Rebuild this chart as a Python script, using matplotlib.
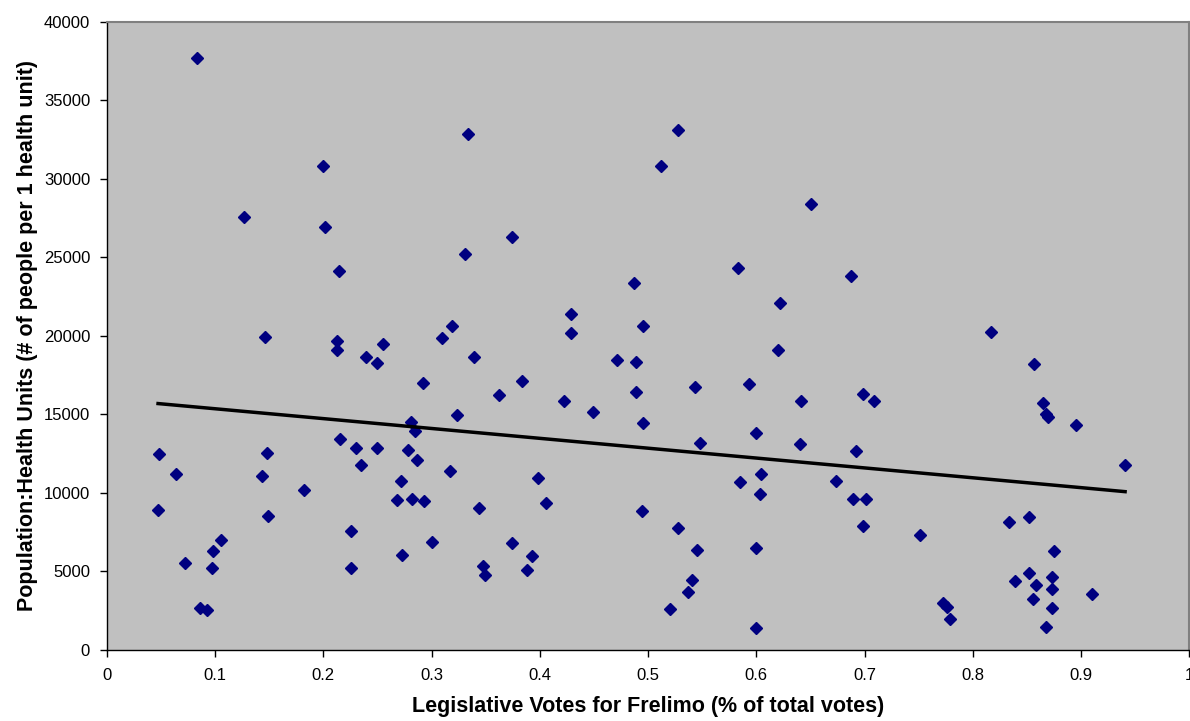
import numpy as np
import matplotlib
matplotlib.use("Agg")
from matplotlib import pyplot as plt

plt.rcParams['font.family'] = ['Liberation Sans', 'DejaVu Sans']

# vote share for Frelimo (fraction of total votes)
votes = [
    0.0836, 0.200, 0.1269, 0.2012, 0.2148, 0.3188, 0.146, 0.310,
    0.2129, 0.2123, 0.2554, 0.2394, 0.2498, 0.2917, 0.3231, 0.2815,
    0.2852, 0.2154, 0.2301, 0.2498, 0.2779, 0.2862, 0.2345, 0.3175,
    0.0486, 0.0640, 0.1477, 0.1434, 0.1821, 0.2717, 0.2677, 0.2818,
    0.2929, 0.0474, 0.1486, 0.1052, 0.0978, 0.0723, 0.0975, 0.2252,
    0.2252, 0.2729, 0.3003, 0.0861, 0.0929,
    0.3335, 0.528, 0.512, 0.6504, 0.3741, 0.3314, 0.5828, 0.4874,
    0.6222, 0.4286, 0.4953, 0.4286,
    0.339, 0.4713, 0.4892, 0.6197, 0.384, 0.3619, 0.4221, 0.4492,
    0.4886, 0.5433, 0.5932, 0.6409, 0.4953, 0.5477, 0.600, 0.640,
    0.3981, 0.4061, 0.344, 0.4941, 0.5846, 0.604, 0.6031, 0.528,
    0.5452, 0.5994, 0.3748, 0.3926, 0.3886, 0.348, 0.3495, 0.5403,
    0.5366, 0.52, 0.600,
    0.6871, 0.8172, 0.8563, 0.699, 0.7086, 0.6917, 0.6741, 0.6892,
    0.7012, 0.6984, 0.7514, 0.8652, 0.8677, 0.8696, 0.8954, 0.9407,
    0.8336, 0.8523, 0.8747, 0.8523, 0.8391, 0.8581, 0.8735, 0.8729,
    0.856, 0.8735, 0.8677, 0.9105, 0.7729, 0.7766, 0.7791,
]

# people per health unit
pop_per_unit = [
    37690, 30830, 27600, 26920, 24120, 20660, 19960, 19900,
    19680, 19110, 19490, 18640, 18280, 17030, 14970, 14500,
    13970, 13420, 12890, 12850, 12760, 12100, 11780, 11400,
    12490, 11210, 12530, 11080, 10170, 10790, 9580, 9640,
    9470, 8920, 8540, 6990, 6330, 5560, 5240, 7580,
    5240, 6030, 6880, 2700, 2550,
    32890, 33100, 30850, 28390, 26290, 25250, 24330, 23380,
    22080, 21420, 20640, 20170,
    18680, 18470, 18330, 19110, 17150, 16260, 15840, 15140,
    16420, 16730, 16940, 15880, 14440, 13210, 13800, 13100,
    10980, 9380, 9070, 8870, 10680, 11230, 9920, 7750,
    6390, 6520, 6840, 5970, 5100, 5370, 4780, 4480,
    3690, 2630, 1400,
    23800, 20240, 18240, 16290, 15860, 12660, 10770, 9600,
    9600, 7920, 7310, 15710, 15030, 14820, 14350, 11760,
    8170, 8450, 6310, 4930, 4400, 4120, 4650, 3870,
    3270, 2650, 1470, 3570, 2990, 2760, 1960,
]

x_ticks = [0, 0.1, 0.2, 0.3, 0.4, 0.5, 0.6, 0.7, 0.8, 0.9, 1]
x_tick_labels = ['0', '0.1', '0.2', '0.3', '0.4', '0.5', '0.6', '0.7', '0.8', '0.9', '1']
y_ticks = [0, 5000, 10000, 15000, 20000, 25000, 30000, 35000, 40000]

x = np.array(votes)
y = np.array(pop_per_unit)

fig = plt.figure(figsize=(11.9, 7.21), dpi=100)
ax = fig.add_axes([0.0897, 0.0985, 0.9097, 0.871])
ax.set_facecolor('#C0C0C0')

ax.plot(x, y, linestyle='none', marker='D', markersize=6,
        color='#000080', markeredgecolor='#000080', zorder=3)

# linear trend line (least squares)
slope, intercept = np.polyfit(x, y, 1)
xs = np.array([x.min(), x.max()])
ax.plot(xs, slope * xs + intercept, color='black', linewidth=2.5, zorder=4)

ax.set_xlim(0, 1)
ax.set_ylim(0, 40000)
ax.set_xticks(x_ticks)
ax.set_xticklabels(x_tick_labels)
ax.set_yticks(y_ticks)
ax.tick_params(axis='both', direction='out', length=5, width=1,
               labelsize=12, colors='black')
ax.tick_params(axis='x', pad=8)
ax.tick_params(axis='y', pad=7)

for side in ['top', 'right']:
    ax.spines[side].set_color('#808080')
    ax.spines[side].set_linewidth(1.5)
for side in ['left', 'bottom']:
    ax.spines[side].set_color('black')
    ax.spines[side].set_linewidth(1)

ax.set_xlabel('Legislative Votes for Frelimo (% of total votes)',
              fontsize=15.5, fontweight='bold', labelpad=9)
ax.set_ylabel('Population:Health Units (# of people per 1 health unit)',
              fontsize=15.5, fontweight='bold', labelpad=4)

fig.savefig('out.png', dpi=100)
